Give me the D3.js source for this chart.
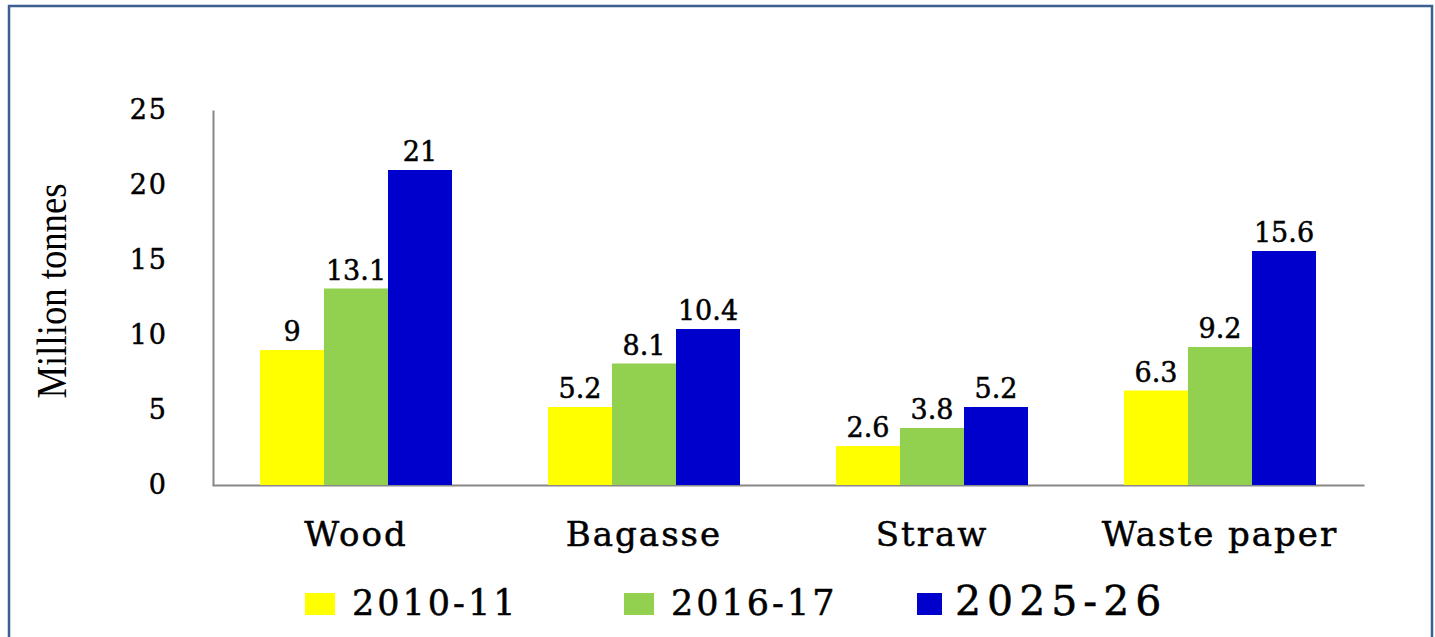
<!DOCTYPE html>
<html>
<head>
<meta charset="utf-8">
<script src="https://cdn.jsdelivr.net/npm/d3@7"></script>
<style>
  body { margin: 0; background: #fff; }
  text { font-family: "DejaVu Serif", serif; fill: #000; }
  .heavy { stroke: #000; stroke-width: 0.5px; }
</style>
</head>
<body>
<svg id="chart" width="1435" height="637"></svg>
<script>
// chart data
const categories = ["Wood", "Bagasse", "Straw", "Waste paper"];
const seriesNames = ["2010-11", "2016-17", "2025-26"];
const values2010 = [9, 5.2, 2.6, 6.3];
const values2016 = [13.1, 8.1, 3.8, 9.2];
const values2025 = [21, 10.4, 5.2, 15.6];
const yTicks = [0, 5, 10, 15, 20, 25];
const colors = ["#ffff00", "#92d050", "#0000cc"];

const seriesValues = [values2010, values2016, values2025];

const svg = d3.select("#chart");

// outer frame
svg.append("rect")
  .attr("x", 9).attr("y", 6)
  .attr("width", 1423).attr("height", 650)
  .attr("fill", "none")
  .attr("stroke", "#3b5f8e")
  .attr("stroke-width", 2.5);

const x = d3.scaleBand().domain(categories).range([212, 1364])
  .paddingInner(1/3).paddingOuter(1/6);
const xs = d3.scaleBand().domain(seriesNames).range([0, x.bandwidth()]);
const y = d3.scaleLinear().domain([0, 25]).range([485, 110]);

// axes
const yAxis = svg.append("g")
  .attr("transform", "translate(213,0)")
  .call(d3.axisLeft(y).tickValues(yTicks).tickSize(0).tickPadding(45));
yAxis.select(".domain").attr("stroke", "#888").attr("stroke-width", 2);
yAxis.selectAll("text")
  .attr("class", "heavy")
  .style("font-family", "DejaVu Serif")
  .style("font-size", "27px")
  .style("letter-spacing", "2px")
  .attr("fill", "#000");

const xAxis = svg.append("g")
  .attr("transform", "translate(0,485)")
  .call(d3.axisBottom(x).tickSize(0).tickPadding(37));
xAxis.select(".domain").attr("stroke", "#888").attr("stroke-width", 2);
xAxis.selectAll("text")
  .attr("class", "heavy")
  .style("font-family", "DejaVu Serif")
  .style("font-size", "34px")
  .style("letter-spacing", "2px")
  .attr("fill", "#000");

// bars
const groups = svg.selectAll(".grp")
  .data(categories)
  .enter().append("g")
  .attr("transform", d => `translate(${x(d)},0)`);

groups.selectAll("rect")
  .data((d, i) => seriesNames.map((s, j) => ({s: s, v: seriesValues[j][i], j: j})))
  .enter().append("rect")
  .attr("x", d => xs(d.s))
  .attr("y", d => y(d.v))
  .attr("width", xs.bandwidth())
  .attr("height", d => y(0) - y(d.v))
  .attr("fill", d => colors[d.j]);

groups.selectAll(".lbl")
  .data((d, i) => seriesNames.map((s, j) => ({s: s, v: seriesValues[j][i], j: j})))
  .enter().append("text")
  .attr("class", "lbl heavy")
  .attr("x", d => xs(d.s) + xs.bandwidth() / 2)
  .attr("y", d => y(d.v) - 9)
  .attr("text-anchor", "middle")
  .style("font-size", "27px")
  .text(d => d.v);

// y axis title
svg.append("text")
  .attr("transform", "translate(66,291) rotate(-90)")
  .attr("text-anchor", "middle")
  .attr("textLength", 215)
  .attr("lengthAdjust", "spacingAndGlyphs")
  .style("font-family", "Liberation Serif")
  .style("font-size", "42px")
  .text("Million tonnes");

// legend (last entry is drawn a bit bigger in the original)
const legendX = [305, 624, 917];
const legendSize = [35, 35, 41];
const legend = svg.selectAll(".leg")
  .data(seriesNames)
  .enter().append("g")
  .attr("transform", (d, i) => `translate(${legendX[i]},593)`);
legend.append("rect")
  .attr("width", (d, i) => i == 2 ? 25 : 30)
  .attr("height", 22)
  .attr("fill", (d, i) => colors[i]);
legend.append("text")
  .attr("class", "heavy")
  .attr("x", (d, i) => i == 2 ? 38 : 47)
  .attr("y", 22)
  .style("font-size", (d, i) => legendSize[i] + "px")
  .style("letter-spacing", (d, i) => i == 2 ? "6px" : "3px")
  .text(d => d);
</script>
</body>
</html>
